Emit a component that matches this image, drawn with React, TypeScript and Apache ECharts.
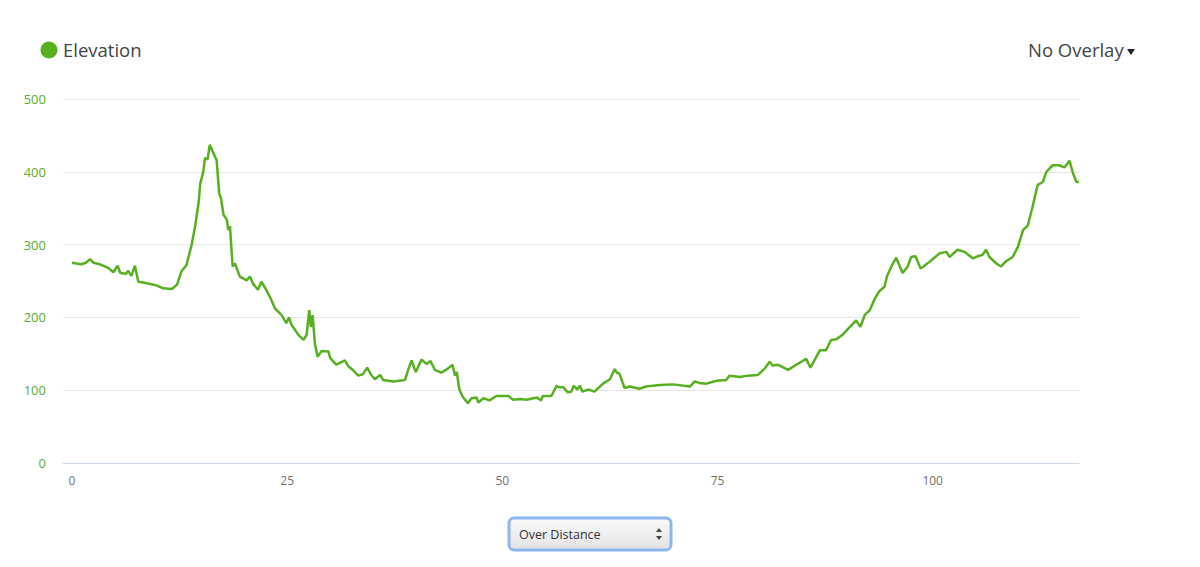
import React, { useEffect, useRef } from "react";
import * as echarts from "echarts";

const distanceKm = [
  0, 0.5, 1.1, 1.6, 2.1, 2.5, 3.2, 3.6, 4.2, 4.8, 5.3, 5.6, 6.3, 6.5, 6.9, 7.3, 7.7, 8.7, 9.8, 10.6,
  11.6, 12.2, 12.7, 13.3, 13.9, 14.3, 14.7, 14.9, 15.25, 15.45, 15.75, 16.0, 16.8, 17.1, 17.3, 17.6, 18.0, 18.15, 18.35, 18.66,
  18.93, 19.5, 20.3, 20.67, 21.05, 21.6, 22.0, 22.6, 23.0, 23.6, 24.35, 24.9, 25.2, 25.5, 26.3, 26.9, 27.25, 27.56, 27.75, 27.95,
  28.22, 28.53, 29.0, 29.8, 30.0, 30.7, 31.7, 32.1, 32.7, 33.25, 33.8, 34.3, 34.7, 35.2, 35.8, 36.15, 37.3, 38.7, 39.05, 39.45,
  39.94, 40.6, 41.2, 41.65, 42.15, 42.9, 43.7, 44.2, 44.5, 44.7, 45.0, 45.4, 46.0, 46.4, 47.0, 47.2, 47.8, 48.5, 49.3, 50.7,
  51.25, 52.0, 52.8, 54.0, 54.5, 54.7, 55.7, 56.3, 56.6, 57.1, 57.6, 58.0, 58.3, 58.7, 59.0, 59.3, 60.0, 60.7, 61.7, 62.5,
  63.05, 63.3, 63.6, 64.2, 64.8, 65.9, 66.7, 68.3, 69.8, 71.8, 72.35, 72.9, 73.7, 74.9, 76.0, 76.4, 77.6, 78.5, 79.7, 80.5,
  81.05, 81.4, 82.0, 83.2, 84.15, 85.3, 85.8, 86.3, 86.9, 87.6, 88.2, 88.8, 89.6, 90.3, 91.1, 91.6, 92.1, 92.7, 93.2, 93.8,
  94.4, 94.7, 95.2, 95.76, 96.5, 97.1, 97.5, 98.0, 98.6, 99.6, 100.8, 101.6, 101.95, 102.9, 103.7, 104.7, 105.0, 105.8, 106.2, 106.6,
  107.4, 107.95, 108.5, 109.3, 109.9, 110.5, 111.05, 111.6, 112.2, 112.8, 113.2, 113.95, 114.7, 115.3, 115.9, 116.3, 116.7, 117.0,
];

const elevationM = [
  275, 274, 273, 275, 280, 275, 273, 271, 268, 262, 271, 261, 260, 264, 257, 271, 249, 247, 244, 240,
  239, 245, 263, 272, 300, 325, 357, 384, 400, 419, 417, 437, 416, 370, 364, 341, 334, 320, 325, 270,
  274, 256, 251, 256, 246, 238, 249, 237, 228, 212, 203, 192, 200, 190, 176, 169, 176, 210, 187, 203,
  164, 146, 154, 153, 144, 135, 141, 133, 127, 120, 122, 131, 122, 115, 121, 114, 112, 114, 128, 141,
  125, 142, 136, 140, 128, 124, 130, 135, 120, 125, 101, 91, 82, 89, 90, 83, 89, 86, 92, 92,
  87, 88, 87, 90, 86, 92, 92, 106, 104, 104, 97, 98, 106, 101, 106, 98, 101, 98, 109, 115,
  129, 124, 123, 103, 105, 102, 105, 107, 108, 105, 112, 110, 109, 113, 114, 120, 118, 120, 121, 130,
  139, 134, 135, 128, 135, 143, 131, 142, 155, 155, 169, 170, 177, 186, 196, 187, 203, 210, 224, 236,
  242, 257, 270, 282, 261, 270, 283, 284, 267, 276, 288, 290, 283, 293, 290, 281, 283, 286, 293, 283,
  274, 270, 277, 283, 297, 320, 326, 352, 382, 386, 400, 409, 409, 406, 415, 398, 386, 386,
];

const xTickValues = [0, 25, 50, 75, 100];
const seriesName = "Elevation";
const overlayLabel = "No Overlay";
const selectLabel = "Over Distance";

const GREEN = "#57b01f";
const FONT = "'Open Sans', 'Noto Sans', sans-serif";

export default function App() {
  const ref = useRef<HTMLDivElement>(null);

  useEffect(() => {
    if (!ref.current) return;
    const chart = echarts.init(ref.current, undefined, { renderer: "svg" });
    const data = distanceKm.map((d, i) => [d, elevationM[i]]);
    chart.setOption({
      animation: false,
      backgroundColor: "#ffffff",
      textStyle: { fontFamily: FONT },
      grid: { left: 63, right: 121, top: 99, bottom: 104, containLabel: false },
      xAxis: {
        type: "value",
        min: -1.05,
        max: 117,
        axisLine: { show: true, lineStyle: { color: "#ccd6eb", width: 1 } },
        axisTick: { show: false },
        splitLine: { show: false },
        axisLabel: {
          customValues: xTickValues,
          color: "#707070",
          fontSize: 12,
          fontFamily: FONT,
          margin: 11,
        },
      },
      yAxis: {
        type: "value",
        min: 0,
        max: 500,
        interval: 100,
        axisLine: { show: false },
        axisTick: { show: false },
        splitLine: { lineStyle: { color: "#e6e6e6", width: 1 } },
        axisLabel: {
          color: "#5cad2a",
          fontSize: 13,
          fontFamily: FONT,
          margin: 17,
        },
      },
      series: [
        {
          name: seriesName,
          type: "line",
          data,
          showSymbol: false,
          smooth: false,
          lineStyle: { color: GREEN, width: 2.5 },
          itemStyle: { color: GREEN },
        },
      ],
      graphic: [
        { type: "circle", shape: { cx: 49, cy: 50, r: 8.5 }, style: { fill: GREEN } },
        {
          type: "text",
          x: 63,
          y: 49.5,
          style: { text: seriesName, fill: "#444", font: `18.5px ${FONT}`, textVerticalAlign: "middle" },
        },
        {
          type: "text",
          x: 1028,
          y: 49.5,
          style: { text: overlayLabel, fill: "#444", font: `18.5px ${FONT}`, textVerticalAlign: "middle" },
        },
        {
          type: "polygon",
          shape: { points: [[1127, 49], [1135, 49], [1131, 55]] },
          style: { fill: "#222" },
        },
        {
          type: "rect",
          shape: { x: 509, y: 518, width: 162, height: 32, r: 5 },
          style: {
            fill: new echarts.graphic.LinearGradient(0, 0, 0, 1, [
              { offset: 0, color: "#fbfbfb" },
              { offset: 1, color: "#e2e2e2" },
            ]),
            stroke: "#8cb6f2",
            lineWidth: 3,
          },
        },
        {
          type: "text",
          x: 519,
          y: 534,
          style: { text: selectLabel, fill: "#333", font: `12.5px ${FONT}`, textVerticalAlign: "middle" },
        },
        {
          type: "polygon",
          shape: { points: [[656, 532], [662, 532], [659, 528]] },
          style: { fill: "#444" },
        },
        {
          type: "polygon",
          shape: { points: [[656, 536], [662, 536], [659, 540]] },
          style: { fill: "#444" },
        },
      ],
    });
    return () => chart.dispose();
  }, []);

  return (
    <div
      ref={ref}
      style={{ position: "fixed", left: 0, top: 0, width: 1200, height: 567 }}
    />
  );
}
